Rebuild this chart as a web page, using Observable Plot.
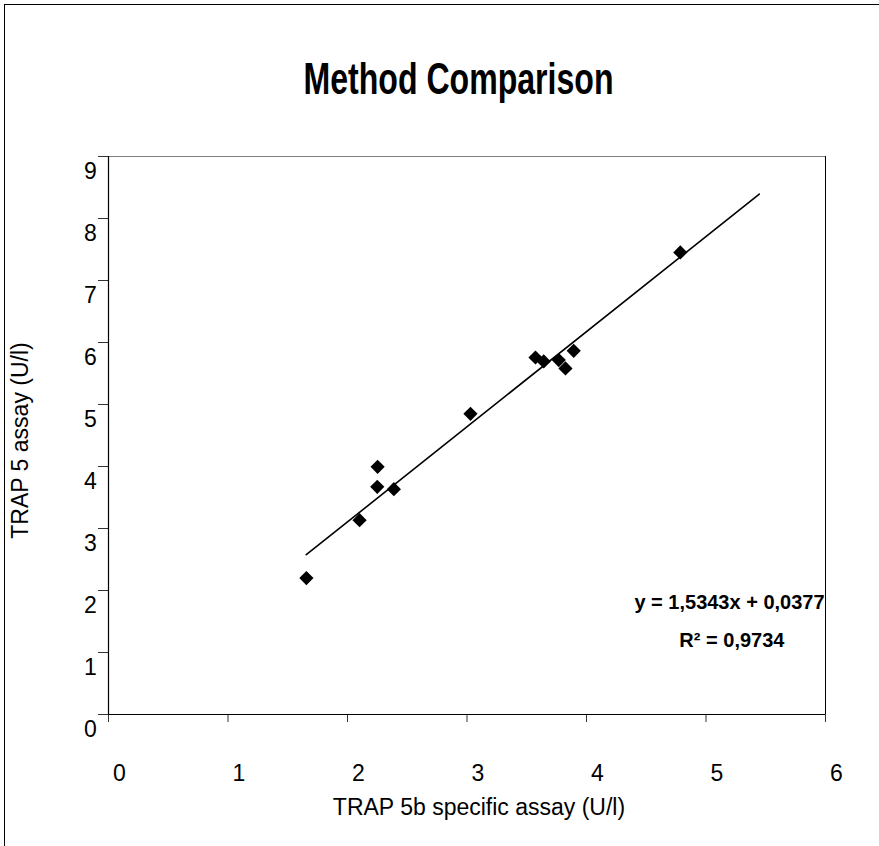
<!DOCTYPE html>
<html><head><meta charset="utf-8">
<script src="https://cdn.jsdelivr.net/npm/d3@7"></script>
<script src="https://cdn.jsdelivr.net/npm/@observablehq/plot@0.6"></script>
<style>
html,body{margin:0;padding:0;background:#fff;overflow:hidden;}
#wrap{position:relative;width:879px;height:846px;overflow:hidden;}
#frame{position:absolute;left:4px;top:4px;width:1000px;height:1000px;border:1.3px solid #000;box-sizing:border-box;pointer-events:none}
#chart svg{display:block}
</style></head><body>
<div id="wrap"><div id="chart"></div><div id="frame"></div></div>
<script>
// Data
const trap5b = [1.656, 2.101, 2.249, 2.252, 2.388, 3.029, 3.573, 3.642, 3.768, 3.824, 3.893, 4.785];
const trap5  = [2.20, 3.135, 3.673, 3.995, 3.635, 4.85, 5.758, 5.694, 5.716, 5.581, 5.866, 7.452];
const slope = 1.5343;
const intercept = 0.0377;
const trendRange = [1.655, 5.446];
const xTicks = [0, 1, 2, 3, 4, 5, 6];
const yTicks = [0, 1, 2, 3, 4, 5, 6, 7, 8, 9];
const titleText = "Method Comparison";
const xLabel = "TRAP 5b specific assay (U/l)";
const yLabel = "TRAP 5 assay (U/l)";
const eqText = "y = 1,5343x + 0,0377";
const r2Text = "R\u00B2 = 0,9734";

const points = trap5b.map((x, i) => ({x, y: trap5[i]}));
const trend = trendRange.map(x => ({x, y: slope * x + intercept}));

const font = "'Liberation Sans', Arial, sans-serif";
const T = {textAnchor: "middle", lineAnchor: "middle", fill: "#000"};

const chart = Plot.plot({
  width: 879,
  height: 846,
  marginLeft: 108,
  marginRight: 54,
  marginTop: 156,
  marginBottom: 132,
  style: {fontFamily: font, background: "#fff", color: "#000"},
  x: {domain: [0, 6]},
  y: {domain: [0, 9]},
  marks: [
    Plot.ruleY([9], {stroke: "#808080", strokeWidth: 1}),
    Plot.ruleX([6], {stroke: "#000", strokeWidth: 1}),
    Plot.axisY({ticks: yTicks, tickSize: 10, tickFormat: () => "", label: null, stroke: "#333"}),
    Plot.axisX({ticks: xTicks, tickSize: 8, tickFormat: () => "", label: null, stroke: "#333"}),
    Plot.ruleX([0], {stroke: "#000", strokeWidth: 1.2}),
    Plot.ruleY([0], {stroke: "#000", strokeWidth: 1.2}),
    Plot.text(yTicks, {...T, y: d => d, text: d => String(d), frameAnchor: "left", dx: -18, dy: 15, fontSize: 23}),
    Plot.text(xTicks, {...T, x: d => d, text: d => String(d), frameAnchor: "bottom", dx: 11, dy: 59, fontSize: 23}),
    Plot.line(trend, {x: "x", y: "y", stroke: "#000", strokeWidth: 1.6}),
    Plot.dot(points, {x: "x", y: "y", symbol: "diamond2", r: 6.4, fill: "#000", stroke: "none"}),
    Plot.text([titleText], {...T, text: d => d, frameAnchor: "top", dx: -8.5, dy: -77, fontSize: 44, fontWeight: "bold"}),
    Plot.text([xLabel], {...T, text: d => d, frameAnchor: "bottom", dx: 12, dy: 93, fontSize: 23}),
    Plot.text([yLabel], {...T, text: d => d, frameAnchor: "left", rotate: -90, dx: -88, dy: 5, fontSize: 23}),
    Plot.text([eqText], {...T, text: d => d, frameAnchor: "bottom-right", dx: -96, dy: -112, fontSize: 20, fontWeight: "bold"}),
    Plot.text([r2Text], {...T, text: d => d, frameAnchor: "bottom-right", dx: -93.6, dy: -73.7, fontSize: 20, fontWeight: "bold"})
  ]
});
document.getElementById("chart").appendChild(chart);
d3.select(chart).selectAll("text").each(function() {
  if (this.textContent === titleText) {
    d3.select(this).attr("textLength", 310).attr("lengthAdjust", "spacingAndGlyphs");
  }
});
</script>
</body></html>
